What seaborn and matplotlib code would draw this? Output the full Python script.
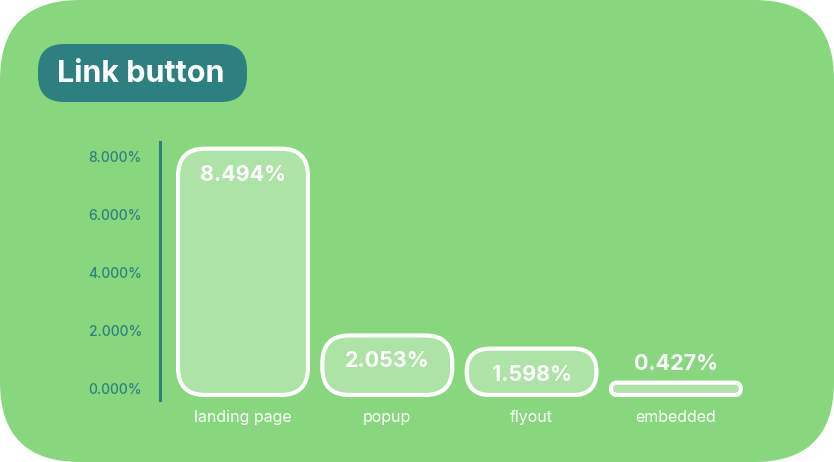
import matplotlib
matplotlib.use("Agg")
import matplotlib.pyplot as plt
import matplotlib.transforms as mtransforms
from matplotlib.patches import FancyBboxPatch
import seaborn as sns
import pandas as pd

# data
categories = ["landing page", "popup", "flyout", "embedded"]
values = [8.494, 2.053, 1.598, 0.427]
y_ticks = [0, 2, 4, 6, 8]
title = "Link button"

GREEN = "#88D77E"
BAR_FILL = "#ADE3A6"
TEAL = "#2E8080"

sns.set_theme(style="white")
plt.rcParams["font.family"] = ["Inter", "DejaVu Sans"]

W, H = 834, 462
fig = plt.figure(figsize=(W / 100, H / 100), dpi=100)
fig.patch.set_facecolor("white")

# background card, drawn in pixel units
bg = fig.add_axes([0, 0, 1, 1], zorder=0)
bg.set_xlim(0, W)
bg.set_ylim(H, 0)
bg.axis("off")
bg.add_patch(FancyBboxPatch((0, 0), W, H, boxstyle="round,pad=0,rounding_size=80",
                            facecolor=GREEN, edgecolor="none"))
bg.add_patch(FancyBboxPatch((38, 44), 209, 58, boxstyle="round,pad=0,rounding_size=26",
                            facecolor=TEAL, edgecolor="none"))
bg.text(57, 74, title, color="white", fontsize=22, fontweight="bold", va="center", ha="left")

# main chart axes
left_px, right_px, top_px, bottom_px = 160, 770, 142, 400
ax = fig.add_axes([left_px / W, (H - bottom_px) / H, (right_px - left_px) / W,
                   (bottom_px - top_px) / H], zorder=1)
ax.patch.set_alpha(0)

df = pd.DataFrame({"channel": categories, "rate": values})
sns.barplot(data=df, x="channel", y="rate", width=0.9, color=BAR_FILL, ax=ax)

px_x = 144.3      # pixels per category
px_y = 29.0       # pixels per percent
zero_px = 395
ax.set_xlim((left_px - 243) / px_x, (right_px - 243) / px_x)
ax.set_ylim((zero_px - bottom_px) / px_y, (zero_px - top_px) / px_y)

aspect = px_x / px_y
for bar, v in zip(list(ax.patches), values):
    x0, w, h = bar.get_x(), bar.get_width(), bar.get_height()
    bar.set_visible(False)
    h_px = h * px_y
    r_px = min(27, h_px / 2)
    ax.add_patch(FancyBboxPatch((x0, 0), w, h,
                                boxstyle=f"round,pad=0,rounding_size={r_px / px_x}",
                                mutation_aspect=aspect, facecolor=BAR_FILL,
                                edgecolor="white", linewidth=3, clip_on=False, zorder=3))
    cx = x0 + w / 2
    if h_px > 40:
        ax.annotate(f"{v:.3f}%", (cx, h), xytext=(0, -26 * 0.72), textcoords="offset points",
                    ha="center", va="center", color="white", fontsize=15.5,
                    fontweight="bold", zorder=4)
    else:
        ax.annotate(f"{v:.3f}%", (cx, h), xytext=(0, 19 * 0.72), textcoords="offset points",
                    ha="center", va="center", color="white", fontsize=15.5,
                    fontweight="bold", zorder=4)

ax.set_yticks(y_ticks)
ax.set_yticklabels([f"{t:.3f}%" for t in y_ticks], fontweight="medium")
ax.set_xlabel("")
ax.set_ylabel("")
ax.tick_params(axis="y", length=0, pad=13, labelsize=10, labelcolor=TEAL)
ax.tick_params(axis="x", length=0, pad=7, labelsize=11.5, labelcolor="white")
shift = mtransforms.ScaledTranslation(0, 0.06, fig.dpi_scale_trans)
for lab in ax.get_yticklabels():
    lab.set_transform(lab.get_transform() + shift)

for s in ["top", "right", "bottom"]:
    ax.spines[s].set_visible(False)
ax.spines["left"].set_color(TEAL)
ax.spines["left"].set_linewidth(2.2)
ax.grid(False)

fig.savefig("out.png", dpi=100, facecolor="white")
